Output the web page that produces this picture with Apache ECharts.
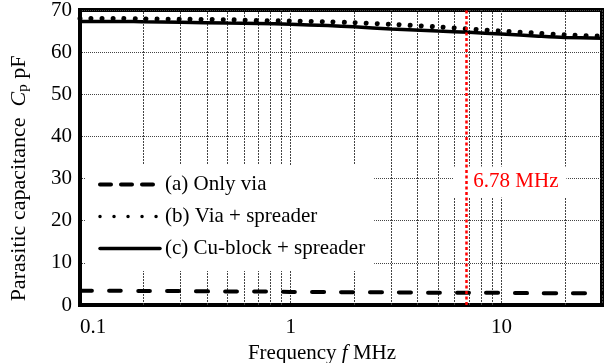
<!DOCTYPE html>
<html lang="en">
<head>
  <meta charset="UTF-8">
  <title>Parasitic capacitance</title>
  <script src="https://cdn.jsdelivr.net/npm/echarts@6/dist/echarts.min.js"></script>
  <style>
    html, body { margin: 0; padding: 0; background: #fff; }
  </style>
</head>
<body>
<div id="main" style="width: 608px; height: 363px;"></div>
<script>
  // frequency points in MHz
  var freq = [0.1, 0.15, 0.2, 0.3, 0.5, 0.7, 1, 1.5, 2, 3, 5, 7, 10, 15, 20, 30]
  // (a) only via
  var onlyVia = [3.4, 3.4, 3.3, 3.3, 3.2, 3.2, 3.1, 3.1, 3.0, 3.0, 2.9, 2.9, 2.9, 2.8, 2.8, 2.8]
  // (b) via + spreader
  var viaSpreader = [68.0, 68.0, 67.9, 67.8, 67.7, 67.5, 67.4, 67.2, 67.0, 66.6, 66.0, 65.5, 65.0, 64.5, 64.1, 63.8]
  // (c) cu-block + spreader
  var cuBlock = [67.3, 67.3, 67.2, 67.1, 66.9, 66.8, 66.6, 66.3, 66.0, 65.5, 65.0, 64.7, 64.3, 63.8, 63.5, 63.3]

  var names = ['(a) Only via', '(b) Via + spreader', '(c) Cu-block + spreader']
  var minorTicks = [0.2, 0.3, 0.4, 0.5, 0.6, 0.7, 0.8, 0.9, 2, 3, 4, 5, 6, 7, 8, 9, 20]
  var markFreq = 6.78
  var markLabel = '6.78 MHz'

  var font = "'Liberation Serif', 'Times New Roman', serif"
  var fs = 21

  function pairs(ys) {
    return freq.map(function (f, i) { return [f, ys[i]] })
  }

  var myChart = echarts.init(document.getElementById('main'))
  var option = {
    animation: false,
    textStyle: { fontFamily: font, color: '#000' },
    grid: {
      left: 80, right: 6, top: 10, bottom: 58,
      show: true, borderColor: '#000', borderWidth: 4,
      containLabel: false,
      outerBoundsMode: 'none'
    },
    legend: {
      orient: 'vertical',
      left: 85, top: 165,
      padding: [9, 9, 12, 13],
      itemGap: 11,
      itemWidth: 60, itemHeight: 20,
      itemTextGap: 7,
      itemStyle: { opacity: 0 },
      backgroundColor: '#fff',
      textStyle: { fontFamily: font, fontSize: fs, color: '#000' },
      data: [
        { name: names[0], lineStyle: { color: '#000', width: 4, type: [11, 10], cap: 'round' } },
        { name: names[1], lineStyle: { color: '#000', width: 3.5, type: [0.01, 14], cap: 'round' } },
        { name: names[2], lineStyle: { color: '#000', width: 3.5, type: 'solid', cap: 'round' } }
      ]
    },
    xAxis: {
      type: 'log',
      logBase: 10,
      min: 0.1,
      max: 30,
      name: '{n|Frequency }{i|f}{n| MHz}',
      nameLocation: 'middle',
      nameGap: 37,
      nameTextStyle: {
        padding: [0, 38, 0, 0],
        rich: {
          n: { fontFamily: font, fontSize: fs, color: '#000' },
          i: { fontFamily: font, fontSize: fs, fontStyle: 'italic', color: '#000' }
        }
      },
      axisLine: { lineStyle: { color: '#000', width: 4 } },
      axisTick: { show: false },
      axisLabel: {
        fontFamily: font, fontSize: fs, color: '#000', margin: 12,
        showMaxLabel: false, alignMinLabel: 'left'
      },
      splitLine: { show: true, lineStyle: { color: '#444', width: 1, type: [2, 1] } }
    },
    yAxis: {
      type: 'value',
      min: 0, max: 70, interval: 10,
      name: '{n|Parasitic capacitance  }{i|C}{s|p}{n| pF}',
      nameLocation: 'middle',
      nameGap: 49,
      nameTextStyle: {
        padding: [0, 42, 0, 0],
        rich: {
          n: { fontFamily: font, fontSize: 22, color: '#000', lineHeight: 24 },
          i: { fontFamily: font, fontSize: 22, fontStyle: 'italic', color: '#000', lineHeight: 24 },
          s: { fontFamily: font, fontSize: 15, color: '#000', lineHeight: 15, verticalAlign: 'bottom' }
        }
      },
      axisLine: { lineStyle: { color: '#000', width: 4 } },
      axisTick: { show: false },
      axisLabel: { fontFamily: font, fontSize: fs, color: '#000', margin: 8 },
      splitLine: { show: true, lineStyle: { color: '#444', width: 1, type: [1, 1] } }
    },
    series: [
      {
        name: names[0], type: 'line', symbol: 'none', smooth: 0.3,
        data: pairs(onlyVia),
        lineStyle: { color: '#000', width: 4, type: [12, 17], cap: 'round' },
        markLine: {
          silent: true, symbol: ['none', 'none'], z: 1,
          label: { show: false },
          lineStyle: { color: '#444', width: 1, type: [2, 1] },
          data: minorTicks.map(function (v) { return { xAxis: v } })
        }
      },
      {
        name: names[1], type: 'line', symbol: 'none', smooth: 0.3,
        data: pairs(viaSpreader),
        lineStyle: { color: '#000', width: 5, type: [0.01, 11], cap: 'round' },
        markLine: {
          silent: true, symbol: ['none', 'none'], z: 6,
          label: { show: false },
          lineStyle: { color: '#ff0000', width: 2.5, type: [3, 2.5] },
          data: [{ xAxis: markFreq }]
        }
      },
      {
        name: names[2], type: 'line', symbol: 'none', smooth: 0.3,
        data: pairs(cuBlock),
        lineStyle: { color: '#000', width: 3.5 },
        markPoint: {
          silent: true, z: 3,
          symbol: 'rect', symbolSize: [113, 31], symbolOffset: [44, 0],
          itemStyle: { color: '#fff' },
          label: {
            show: true, position: 'inside', offset: [6, 0],
            formatter: markLabel,
            fontFamily: font, fontSize: fs, color: '#ff0000'
          },
          data: [{ coord: [markFreq, 29.2] }]
        }
      }
    ]
  }
  myChart.setOption(option)
</script>
</body>
</html>
